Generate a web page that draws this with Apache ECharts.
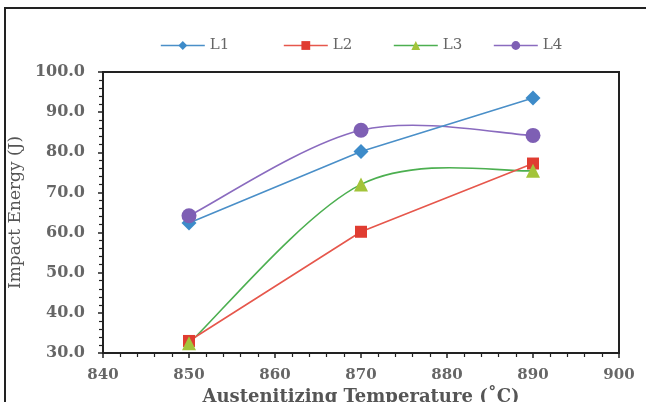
<!DOCTYPE html>
<html><head><meta charset="utf-8">
<script src="https://cdn.jsdelivr.net/npm/echarts@6/dist/echarts.min.js"></script>
<style>html,body{margin:0;padding:0;background:#fff}#c{width:646px;height:402px}</style>
</head><body><div id="c"></div>
<script>
const temps = [850, 870, 890];
const L1 = [62.4, 80.2, 93.5];
const L2 = [33.0, 60.2, 77.2];
const L3 = [32.4, 72.0, 75.4];
const L4 = [64.2, 85.5, 84.2];
const seriesNames = ['L1', 'L2', 'L3', 'L4'];
const xTitle = 'Austenitizing Temperature (˚C)';
const yTitle = 'Impact Energy (J)';

const font = 'DejaVu Serif';
const chart = echarts.init(document.getElementById('c'), null, {renderer: 'canvas'});

const styles = {
  L1: {line: '#4a8fc8', mark: '#3d8bc9', symbol: 'diamond', size: 15, smooth: false},
  L2: {line: '#e6574c', mark: '#e03c31', symbol: 'rect', size: 12, smooth: false},
  L3: {line: '#4caf50', mark: '#a3c43a', symbol: 'triangle', size: 14, smooth: true},
  L4: {line: '#8a6bbf', mark: '#7e5fb4', symbol: 'circle', size: 15, smooth: true}
};
const values = {L1, L2, L3, L4};

// Excel-style smoothed curve, drawn through the chart's own coordinate system
function smoothSeries(name) {
  const vals = values[name];
  const st = styles[name];
  return {
    name: name + '_curve', type: 'custom', z: 1, silent: true,
    data: temps.map((t, i) => [t, vals[i]]),
    renderItem: function (params, api) {
      if (params.dataIndex !== 0) return null;
      const p = temps.map((t, i) => api.coord([t, vals[i]]));
      const n = p.length;
      let d = 'M' + p[0][0] + ' ' + p[0][1];
      for (let i = 0; i < n - 1; i++) {
        const a = p[Math.max(i - 1, 0)], b = p[i], c = p[i + 1], e = p[Math.min(i + 2, n - 1)];
        const c1 = [b[0] + (c[0] - a[0]) / 6, b[1] + (c[1] - a[1]) / 6];
        const c2 = [c[0] - (e[0] - b[0]) / 6, c[1] - (e[1] - b[1]) / 6];
        d += ' C' + c1[0] + ' ' + c1[1] + ' ' + c2[0] + ' ' + c2[1] + ' ' + c[0] + ' ' + c[1];
      }
      return {type: 'path', shape: {pathData: d}, style: {fill: 'none', stroke: st.line, lineWidth: 1.6}};
    }
  };
}
function lineSeries(name) {
  const st = styles[name];
  return {
    name, type: 'line', z: 3, data: temps.map((t, i) => [t, values[name][i]]),
    symbol: st.symbol, symbolSize: st.size,
    lineStyle: {color: st.line, width: 1.6, opacity: st.smooth ? 0 : 1},
    itemStyle: {color: st.mark, borderWidth: 0},
    emphasis: {disabled: true}
  };
}
const legendLeft = [155, 278, 388, 488];
const legends = seriesNames.map((n, i) => ({
  top: 33, left: legendLeft[i], itemWidth: 44, itemHeight: 11, itemGap: 8,
  selectedMode: false,
  textStyle: {fontFamily: font, fontSize: 15, color: '#666'},
  data: [{name: n, lineStyle: {color: styles[n].line, width: 1.6, opacity: 1}}]
}));
const series = [];
seriesNames.forEach(n => { if (styles[n].smooth) series.push(smoothSeries(n)); });
seriesNames.forEach(n => series.push(lineSeries(n)));

const axisCommon = {
  axisLine: {show: true, lineStyle: {color: '#222', width: 2}},
  axisTick: {show: true, inside: false, length: 5, lineStyle: {color: '#222', width: 1.5}},
  minorTick: {show: true, splitNumber: 5, length: 4, lineStyle: {color: '#222', width: 1.2}},
  splitLine: {show: false}
};
chart.setOption({
  animation: false,
  backgroundColor: '#fff',
  graphic: [{type: 'rect', shape: {x: 5, y: 8, width: 660, height: 420}, style: {fill: 'none', stroke: '#222', lineWidth: 2}, silent: true, z: 100}],
  legend: legends,
  grid: {left: 103, top: 72, right: 27, bottom: 49, show: true, borderColor: '#222', borderWidth: 2, backgroundColor: 'transparent', containLabel: false, outerBoundsMode: 'none'},
  xAxis: Object.assign({
    type: 'value', min: 840, max: 900, interval: 10,
    name: xTitle, nameLocation: 'middle', nameGap: 30,
    nameTextStyle: {fontFamily: font, fontSize: 18, fontWeight: 'bold', color: '#555'},
    axisLabel: {fontFamily: font, fontSize: 15, fontWeight: 'bold', color: '#666', margin: 15}
  }, axisCommon),
  yAxis: Object.assign({
    type: 'value', min: 30, max: 100, interval: 10,
    name: yTitle, nameLocation: 'middle', nameGap: 73, nameRotate: 90,
    nameTextStyle: {fontFamily: font, fontSize: 17, color: '#555'},
    axisLabel: {fontFamily: font, fontSize: 16, fontWeight: 'bold', color: '#666', margin: 18, formatter: v => v.toFixed(1)}
  }, axisCommon),
  series
});
</script></body></html>
